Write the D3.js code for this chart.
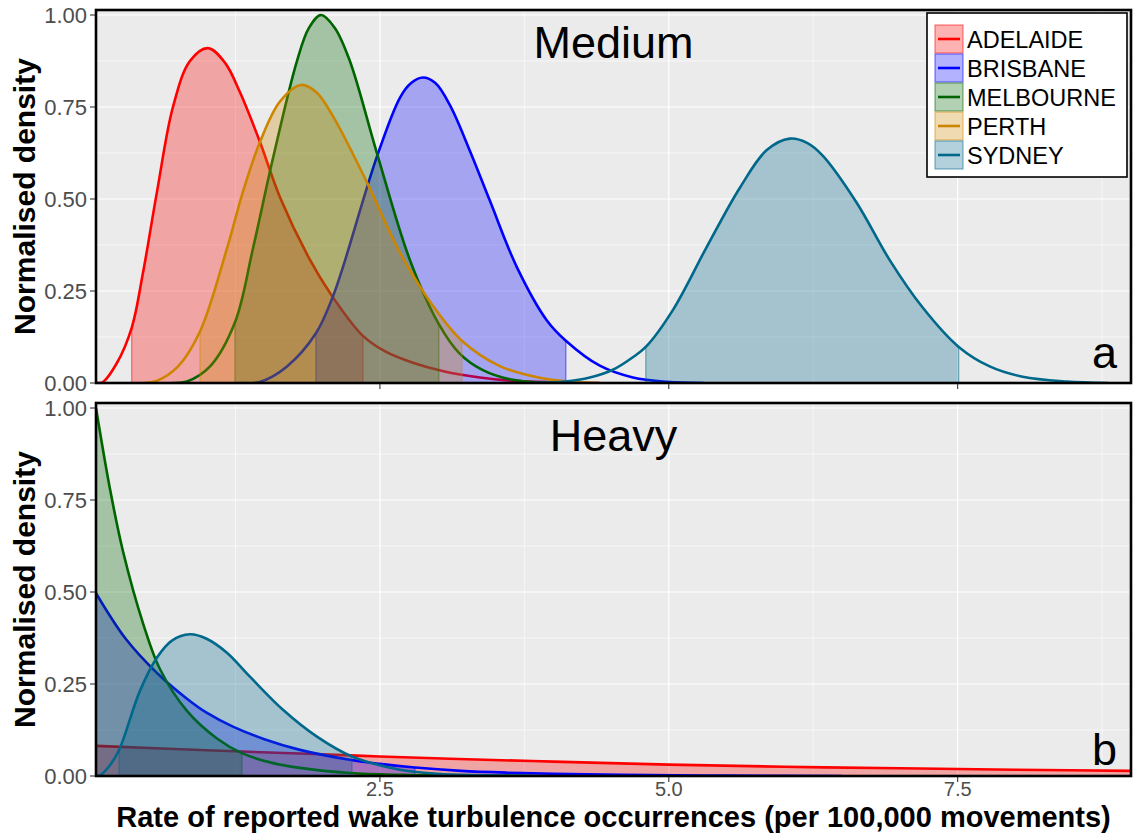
<!DOCTYPE html>
<html>
<head>
<meta charset="utf-8">
<script src="https://d3js.org/d3.v7.min.js"></script>
<style>
  body { margin: 0; background: #fff; }
  text { font-family: "Liberation Sans", Arial, sans-serif; }
</style>
</head>
<body>
<div id="chart"></div>
<script>
// city order = legend order = drawing order
const cities = ["ADELAIDE", "BRISBANE", "MELBOURNE", "PERTH", "SYDNEY"];

// ---- Medium panel: [rate, normalised density]
const mediumAdelaide = [[0.05,0],[0.1,0.002],[0.225,0.055],[0.352,0.15],[0.45,0.3],[0.571,0.52],[0.709,0.75],[0.856,0.875],[1.012,0.91],[1.16,0.87],[1.289,0.79],[1.462,0.655],[1.635,0.505],[1.894,0.335],[2.067,0.245],[2.353,0.128],[2.55,0.085],[2.785,0.055],[3.05,0.032],[3.365,0.015],[3.651,0.006],[4.0,0.002],[4.4,0]];
const mediumBrisbane = [[1.3,0],[1.462,0.003],[1.696,0.045],[1.946,0.135],[2.093,0.235],[2.18,0.315],[2.474,0.615],[2.673,0.775],[2.77,0.815],[2.872,0.83],[2.98,0.815],[3.106,0.755],[3.28,0.63],[3.452,0.495],[3.685,0.315],[3.945,0.17],[4.109,0.115],[4.403,0.047],[4.689,0.015],[4.983,0.003],[5.3,0]];
const mediumMelbourne = [[0.7,0],[0.83,0.004],[1.03,0.045],[1.246,0.165],[1.401,0.365],[1.574,0.61],[1.782,0.875],[1.886,0.965],[1.99,1.0],[2.11,0.965],[2.24,0.875],[2.474,0.625],[2.76,0.334],[3.01,0.16],[3.19,0.08],[3.391,0.035],[3.625,0.01],[3.85,0.002],[4.1,0]];
const mediumPerth = [[0.45,0],[0.571,0.006],[0.753,0.045],[0.943,0.14],[1.176,0.365],[1.315,0.52],[1.462,0.655],[1.635,0.765],[1.817,0.81],[1.95,0.79],[2.093,0.725],[2.388,0.545],[2.673,0.355],[2.958,0.21],[3.209,0.115],[3.538,0.046],[3.884,0.014],[4.118,0.004],[4.4,0]];
const mediumSydney = [[3.85,0],[4.1,0.004],[4.317,0.015],[4.516,0.036],[4.689,0.07],[4.801,0.098],[5.035,0.198],[5.329,0.37],[5.614,0.53],[5.848,0.633],[6.047,0.664],[6.2,0.652],[6.332,0.618],[6.626,0.49],[6.912,0.334],[7.197,0.205],[7.509,0.098],[7.777,0.045],[8.062,0.017],[8.443,0.004],[8.8,0]];
// shaded interval per city [lower, upper]
const mediumHdi = [[0.352,2.353],[1.946,4.109],[1.246,3.01],[0.943,3.209],[4.801,7.509]];

// ---- Heavy panel (no Perth curve)
const heavyAdelaide = [[0.043,0.082],[1,0.07],[2,0.059],[2.5,0.053],[3.106,0.047],[4,0.039],[5,0.031],[6,0.025],[7,0.021],[7.5,0.019],[8,0.017],[9,0.014],[9.3,0.013]];
const heavyBrisbane = [[0.043,0.497],[0.3,0.373],[0.571,0.28],[0.83,0.21],[1.0,0.172],[1.228,0.134],[1.5,0.1],[1.808,0.071],[2.24,0.044],[2.5,0.033],[2.803,0.023],[3.2,0.014],[3.6,0.009],[4.0,0.006],[4.6,0.003],[5.5,0.001],[6.5,0]];
const heavyMelbourne = [[0.043,1.0],[0.164,0.78],[0.277,0.61],[0.45,0.415],[0.597,0.29],[0.83,0.177],[1.09,0.102],[1.306,0.062],[1.55,0.037],[1.808,0.022],[2.24,0.008],[2.7,0.003],[3.2,0.001],[3.8,0]];
const heavySydney = [[0.043,0],[0.078,0.002],[0.16,0.028],[0.242,0.07],[0.424,0.232],[0.571,0.322],[0.7,0.368],[0.856,0.385],[1.0,0.373],[1.176,0.335],[1.375,0.27],[1.661,0.18],[1.955,0.107],[2.258,0.053],[2.673,0.017],[3.0,0.006],[3.4,0.002],[3.9,0]];
const heavyHdi = [[0.043,9.3],[0.043,2.803],[0.043,1.306],null,[0.242,2.258]];

const xTicks = [2.5, 5.0, 7.5];
const xMinor = [1.25, 3.75, 6.25, 8.75];
const yTicks = [0, 0.25, 0.5, 0.75, 1.0];
const yMinor = [0.125, 0.375, 0.625, 0.875];

const panels = [
  { name: "medium", title: "Medium", tag: "a", top: 10, bottom: 383,
    curves: [mediumAdelaide, mediumBrisbane, mediumMelbourne, mediumPerth, mediumSydney], hdi: mediumHdi },
  { name: "heavy", title: "Heavy", tag: "b", top: 403, bottom: 776,
    curves: [heavyAdelaide, heavyBrisbane, heavyMelbourne, null, heavySydney], hdi: heavyHdi }
];

var colors = d3.scaleOrdinal()
  .domain(cities)
  .range(["#FF0000", "#0000FF", "#006400", "#CD8500", "#00688B"]);

var W = 1139, H = 834;
var left = 96, right = 1131;

var svg = d3.select("#chart").append("svg")
  .attr("width", W).attr("height", H);
var defs = svg.append("defs");

var x = d3.scaleLinear().domain([0.043, 9.0]).range([left, right]);

function yAt(pts, v) {
  var i = d3.bisector(d => d[0]).left(pts, v);
  if (i <= 0) return pts[0][1];
  if (i >= pts.length) return 0;
  var a = pts[i - 1], b = pts[i];
  return a[1] + (v - a[0]) / (b[0] - a[0]) * (b[1] - a[1]);
}

panels.forEach(function(p) {
  var y = d3.scaleLinear().domain([0, 1.0136]).range([p.bottom, p.top]);
  var g = svg.append("g").attr("class", "panel-" + p.name);

  defs.append("clipPath").attr("id", "clip-" + p.name)
    .append("rect")
    .attr("x", left).attr("y", p.top)
    .attr("width", right - left).attr("height", p.bottom - p.top);

  g.append("rect")
    .attr("x", left).attr("y", p.top)
    .attr("width", right - left).attr("height", p.bottom - p.top)
    .attr("fill", "#EBEBEB");

  // grid
  var grid = g.append("g").attr("clip-path", "url(#clip-" + p.name + ")");
  grid.selectAll(".ymin").data(yMinor).join("line")
    .attr("x1", left).attr("x2", right)
    .attr("y1", d => y(d)).attr("y2", d => y(d))
    .attr("stroke", "#fff").attr("stroke-width", 0.6);
  grid.selectAll(".xmin").data(xMinor).join("line")
    .attr("y1", p.top).attr("y2", p.bottom)
    .attr("x1", d => x(d)).attr("x2", d => x(d))
    .attr("stroke", "#fff").attr("stroke-width", 0.6);
  grid.selectAll(".ymaj").data(yTicks).join("line")
    .attr("x1", left).attr("x2", right)
    .attr("y1", d => y(d)).attr("y2", d => y(d))
    .attr("stroke", "#fff").attr("stroke-width", 1.2);
  grid.selectAll(".xmaj").data(xTicks).join("line")
    .attr("y1", p.top).attr("y2", p.bottom)
    .attr("x1", d => x(d)).attr("x2", d => x(d))
    .attr("stroke", "#fff").attr("stroke-width", 1.2);

  var curve = d3.curveCatmullRom.alpha(0.5);
  var area = d3.area()
    .x(d => x(d[0])).y0(y(0)).y1(d => y(d[1]))
    .curve(curve);
  var line = d3.line()
    .x(d => x(d[0])).y(d => y(d[1]))
    .curve(curve);

  var marks = g.append("g").attr("clip-path", "url(#clip-" + p.name + ")");

  cities.forEach(function(city, i) {
    var pts = p.curves[i];
    if (!pts) return;
    var lim = p.hdi[i];
    var col = colors(city);
    var cid = "hdi-" + p.name + "-" + i;

    defs.append("clipPath").attr("id", cid)
      .append("rect")
      .attr("x", x(lim[0])).attr("y", p.top)
      .attr("width", x(lim[1]) - x(lim[0])).attr("height", p.bottom - p.top);

    marks.append("path")
      .datum(pts)
      .attr("d", area)
      .attr("clip-path", "url(#" + cid + ")")
      .attr("fill", col)
      .attr("fill-opacity", 0.3);

    marks.selectAll(".edge-" + i).data(lim).join("line")
      .attr("x1", d => x(d)).attr("x2", d => x(d))
      .attr("y1", y(0)).attr("y2", d => y(yAt(pts, d)))
      .attr("stroke", col).attr("stroke-opacity", 0.5)
      .attr("stroke-width", 1.2);

    marks.append("path")
      .datum(pts)
      .attr("d", line)
      .attr("fill", "none")
      .attr("stroke", col)
      .attr("stroke-width", 2.6);
  });

  // border
  g.append("rect")
    .attr("x", left).attr("y", p.top)
    .attr("width", right - left).attr("height", p.bottom - p.top)
    .attr("fill", "none").attr("stroke", "#000").attr("stroke-width", 2.6);

  // ticks
  g.selectAll(".ytick").data(yTicks).join("line")
    .attr("x1", left - 6).attr("x2", left - 1)
    .attr("y1", d => y(d)).attr("y2", d => y(d))
    .attr("stroke", "#333").attr("stroke-width", 1.1);
  g.selectAll(".xtick").data(xTicks).join("line")
    .attr("y1", p.bottom + 1).attr("y2", p.bottom + 6)
    .attr("x1", d => x(d)).attr("x2", d => x(d))
    .attr("stroke", "#333").attr("stroke-width", 1.1);

  g.selectAll(".ylab").data(yTicks).join("text")
    .attr("x", left - 9).attr("y", d => y(d))
    .attr("dy", "0.36em")
    .attr("text-anchor", "end")
    .style("font-size", "22px")
    .attr("fill", "#4D4D4D")
    .text(d => d3.format(".2f")(d));

  g.append("text")
    .attr("transform", "translate(35," + (p.top + p.bottom) / 2 + ") rotate(-90)")
    .attr("text-anchor", "middle")
    .style("font-size", "30px").style("font-weight", "bold")
    .text("Normalised density");

  g.append("text")
    .attr("x", (left + right) / 2).attr("y", p.top + 48)
    .attr("text-anchor", "middle")
    .style("font-size", "45px")
    .text(p.title);

  g.append("text")
    .attr("x", right - 14).attr("y", p.bottom - (p.name == "medium" ? 15 : 11))
    .attr("text-anchor", "end")
    .style("font-size", "45px")
    .text(p.tag);
});

// x tick labels + title under the bottom panel
svg.selectAll(".xlab").data(xTicks).join("text")
  .attr("x", d => x(d)).attr("y", 796)
  .attr("text-anchor", "middle")
  .style("font-size", "20px")
  .attr("fill", "#4D4D4D")
  .text(d => d3.format(".1f")(d));

svg.append("text")
  .attr("x", (left + right) / 2).attr("y", 827)
  .attr("text-anchor", "middle")
  .style("font-size", "29px").style("font-weight", "bold")
  .text("Rate of reported wake turbulence occurrences (per 100,000 movements)");

// legend
var legend = svg.append("g").attr("class", "legend");
legend.append("rect")
  .attr("x", 927).attr("y", 13).attr("width", 200).attr("height", 164)
  .attr("fill", "#fff").attr("stroke", "#000").attr("stroke-width", 1.6);

var rows = legend.selectAll(".row").data(cities).join("g")
  .attr("transform", (d, i) => "translate(0," + (39 + i * 29) + ")");
rows.append("rect")
  .attr("x", 935).attr("y", -14).attr("width", 28).attr("height", 28)
  .attr("fill", d => colors(d)).attr("fill-opacity", 0.3)
  .attr("stroke", d => colors(d)).attr("stroke-opacity", 0.5)
  .attr("stroke-width", 1.2);
rows.append("line")
  .attr("x1", 938).attr("x2", 960).attr("y1", 0).attr("y2", 0)
  .attr("stroke", d => colors(d)).attr("stroke-width", 2.6);
rows.append("text")
  .attr("x", 967).attr("y", 8.5)
  .style("font-size", "23.5px")
  .text(d => d);
</script>
</body>
</html>
